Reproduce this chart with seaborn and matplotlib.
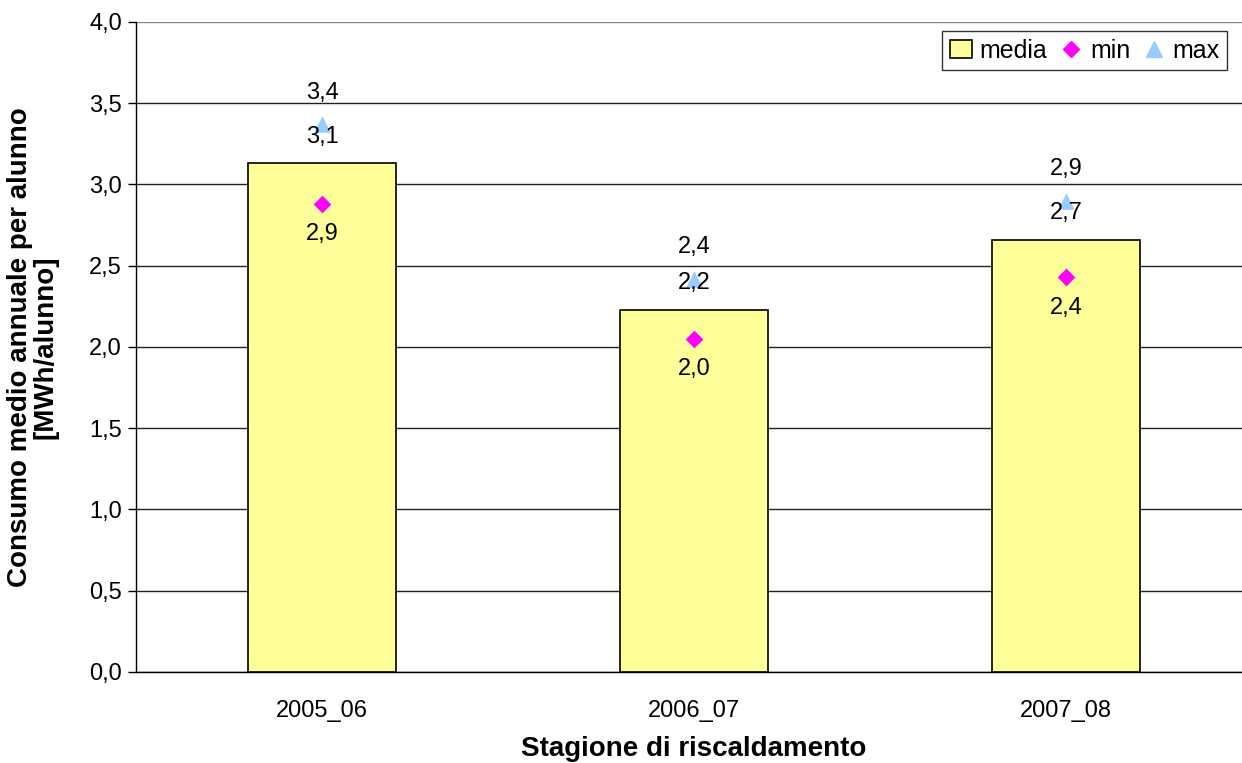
import matplotlib
matplotlib.use("Agg")
import matplotlib.pyplot as plt
import seaborn as sns
from matplotlib.lines import Line2D
from matplotlib.patches import Patch

# Data
stagioni = ["2005_06", "2006_07", "2007_08"]
media = [3.13, 2.23, 2.66]
minimo = [2.88, 2.05, 2.43]
massimo = [3.37, 2.42, 2.90]

sns.set_style("white")
plt.rcParams['font.family'] = ['Liberation Sans', 'DejaVu Sans']
plt.rcParams['text.color'] = "black"
plt.rcParams['axes.labelcolor'] = "black"
plt.rcParams['xtick.color'] = "black"
plt.rcParams['ytick.color'] = "black"

fig = plt.figure(figsize=(12.42, 7.63), dpi=100)
ax = fig.add_axes([0.1095, 0.1193, 0.8985, 0.8519])

# Bars for the mean
sns.barplot(x=stagioni, y=media, color="#FFFF99", edgecolor="black",
            linewidth=1.2, width=0.4, saturation=1, ax=ax, zorder=3)
# min and max markers
sns.stripplot(x=stagioni, y=minimo, jitter=False, marker="D", color="#FF00FF",
              size=9, ax=ax, zorder=4)
sns.stripplot(x=stagioni, y=massimo, jitter=False, marker="^", color="#99CCFF",
              size=12, ax=ax, zorder=4)

def fmt(v):
    return f"{v:.1f}".replace(".", ",")

# Value labels
for i in range(len(stagioni)):
    ax.annotate(fmt(media[i]), (i, media[i]), xytext=(0, 11), textcoords="offset points",
                ha="center", va="bottom", fontsize=17, zorder=5)
    ax.annotate(fmt(massimo[i]), (i, massimo[i]), xytext=(0, 15), textcoords="offset points",
                ha="center", va="bottom", fontsize=17, zorder=5)
    ax.annotate(fmt(minimo[i]), (i, minimo[i]), xytext=(0, -14), textcoords="offset points",
                ha="center", va="top", fontsize=17, zorder=5)

ax.set_xlim(-0.5, 2.5)
ax.set_ylim(0, 4.0)
ax.set_yticks([0, 0.5, 1.0, 1.5, 2.0, 2.5, 3.0, 3.5, 4.0])
ax.set_yticklabels([fmt(v) for v in ax.get_yticks()], fontsize=17)
ax.set_xticks(range(len(stagioni)))
ax.set_xticklabels(stagioni, fontsize=17)
ax.tick_params(axis="x", which="major", length=0, pad=20)
ax.set_xticks([-0.5, 0.5, 1.5, 2.5], minor=True)
ax.tick_params(axis="x", which="minor", length=6, width=1, color="black", direction="out")
ax.tick_params(axis="y", length=6, width=1, color="black", direction="out", left=True, pad=4)

ax.yaxis.grid(True, color="#222222", linewidth=1)
ax.set_axisbelow(True)
for s in ["top", "right"]:
    ax.spines[s].set_visible(False)
for s in ["left", "bottom"]:
    ax.spines[s].set_color("black")
    ax.spines[s].set_linewidth(1)
ax.get_ygridlines()[-1].set_color("#888888")

ax.set_xlabel("Stagione di riscaldamento", fontsize=20, fontweight="bold", labelpad=10)
ax.set_ylabel("Consumo medio annuale per alunno\n[MWh/alunno]", fontsize=20,
              fontweight="bold", linespacing=1.0)
ax.yaxis.set_label_coords(-0.069, 0.5)

handles = [
    Patch(facecolor="#FFFF99", edgecolor="black", linewidth=1.2),
    Line2D([], [], marker="D", color="#FF00FF", linestyle="", markersize=8),
    Line2D([], [], marker="^", color="#99CCFF", linestyle="", markersize=11),
]
leg = ax.legend(handles, ["media", "min", "max"], ncol=3, loc="upper right",
                bbox_to_anchor=(0.978, 0.986), fontsize=18, frameon=True, fancybox=False,
                handlelength=0.9, handletextpad=0.3, columnspacing=0.5,
                borderpad=0.3, borderaxespad=0)
leg.get_frame().set_edgecolor("black")
leg.get_frame().set_linewidth(1)

fig.savefig("out.png", dpi=100)
